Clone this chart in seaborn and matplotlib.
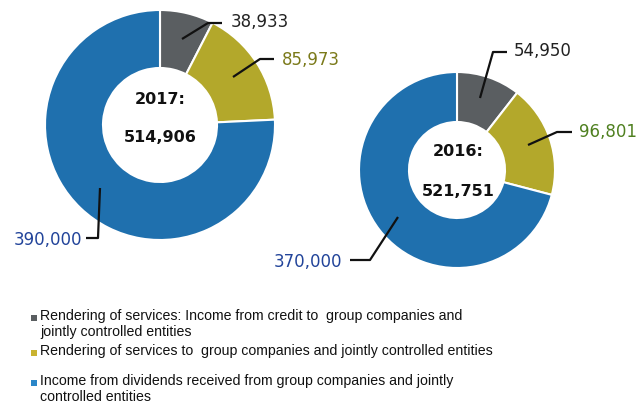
import matplotlib
matplotlib.use("Agg")
import matplotlib.pyplot as plt
import seaborn as sns

sns.set_theme(style="white")
plt.rcParams['font.family'] = ['DejaVu Sans']

# Income breakdown (thousands)
categories = [
    "Rendering of services: Income from credit to  group companies and\njointly controlled entities",
    "Rendering of services to  group companies and jointly controlled entities",
    "Income from dividends received from group companies and jointly\ncontrolled entities",
]
values_2017 = [38933, 85973, 390000]
values_2016 = [54950, 96801, 370000]
years = ["2017", "2016"]

wedge_colors = ["#5a5e61", "#b3a82b", "#1f70ae"]
marker_colors = ["#5a5e61", "#c9b330", "#2a86c8"]
label_colors = ["#222222", "#7b7a1a", "#22449a"]
label_colors_2016 = ["#222222", "#4f8020", "#22449a"]

W, H = 638, 407
fig = plt.figure(figsize=(W / 100, H / 100), dpi=100)
ax = fig.add_axes([0, 0, 1, 1])
ax.set_xlim(0, W)
ax.set_ylim(0, H)
ax.set_aspect("equal")
ax.axis("off")


def py(y):
    return H - y


def donut(vals, cx, cy, r, hole):
    ax.pie(vals, colors=wedge_colors, startangle=90, counterclock=False,
           center=(cx, py(cy)), radius=r,
           wedgeprops=dict(width=r - hole, edgecolor="white", linewidth=1.5),
           frame=True)


def leader(pts, text, tx, ty, color, ha):
    xs = [p[0] for p in pts]
    ys = [py(p[1]) for p in pts]
    ax.plot(xs, ys, color="#111111", lw=1.6, solid_capstyle="butt")
    ax.text(tx, py(ty), text, color=color, fontsize=12, ha=ha, va="center")


# 2017 donut
donut(values_2017, 160, 125, 115, 57)
ax.text(160, py(100), f"{years[0]}:", fontsize=11.5, fontweight="bold",
        ha="center", va="center", color="#111111")
ax.text(160, py(138), f"{sum(values_2017):,}", fontsize=11.5, fontweight="bold",
        ha="center", va="center", color="#111111")
leader([(182, 39), (208, 23), (222, 23)], f"{values_2017[0]:,}", 231, 22, label_colors[0], "left")
leader([(233, 77), (260, 59), (274, 59)], f"{values_2017[1]:,}", 282, 60, label_colors[1], "left")
leader([(100, 188), (98, 238), (86, 238)], f"{values_2017[2]:,}", 82, 240, label_colors[2], "right")

# 2016 donut
donut(values_2016, 457, 170, 98, 48)
ax.text(458, py(152), f"{years[1]}:", fontsize=11.5, fontweight="bold",
        ha="center", va="center", color="#111111")
ax.text(458, py(192), f"{sum(values_2016):,}", fontsize=11.5, fontweight="bold",
        ha="center", va="center", color="#111111")
leader([(480, 98), (493, 52), (507, 52)], f"{values_2016[0]:,}", 514, 51, label_colors_2016[0], "left")
leader([(528, 145), (557, 132), (572, 132)], f"{values_2016[1]:,}", 579, 132, label_colors_2016[1], "left")
leader([(398, 217), (370, 260), (350, 260)], f"{values_2016[2]:,}", 342, 262, label_colors_2016[2], "right")

ax.set_xlim(0, W)
ax.set_ylim(0, H)

# Legend
legend_rows = [318, 353, 383]
for cat, col, y in zip(categories, marker_colors, legend_rows):
    ax.scatter([34], [py(y)], marker="s", s=16, color=col, linewidths=0)
    ax.text(40, py(y - 9), cat, fontsize=10.2, family=["Liberation Sans", "DejaVu Sans"],
            ha="left", va="top", color="#111111", linespacing=1.15)

fig.savefig("out.png", dpi=100)
